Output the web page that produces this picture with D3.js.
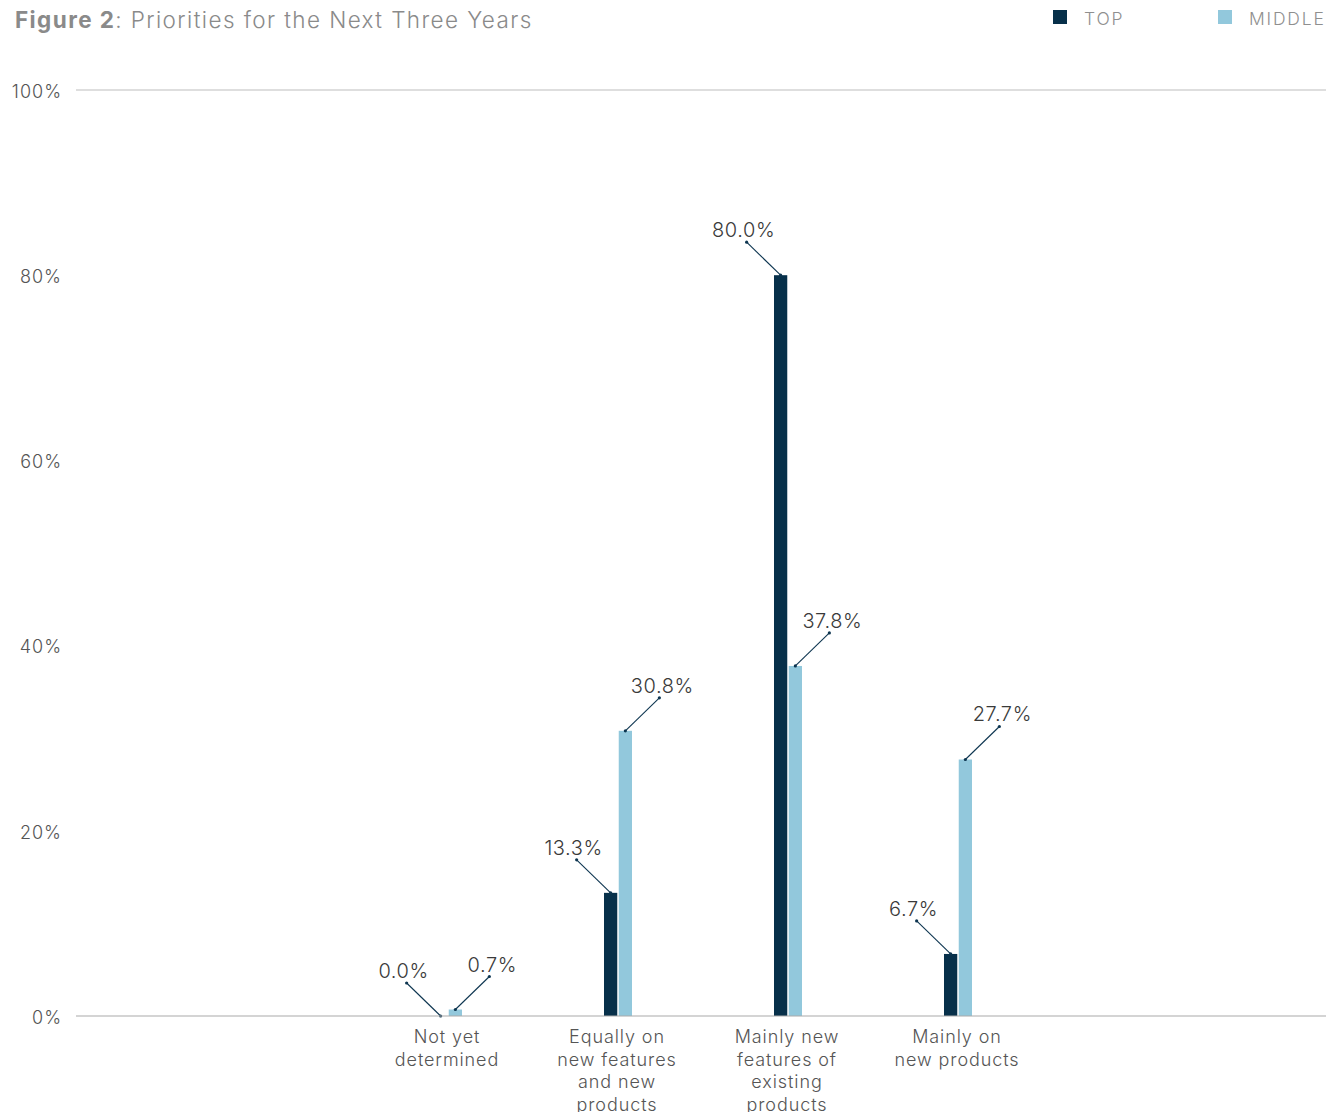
<!DOCTYPE html>
<html>
<head>
<meta charset="utf-8">
<script src="https://cdn.jsdelivr.net/npm/d3@7"></script>
<style>
  html, body { margin: 0; padding: 0; background: #fff; }
  svg { display: block; font-family: Inter, "Noto Sans", sans-serif; }
</style>
</head>
<body>
<svg id="chart" width="1330" height="1112"></svg>
<script>
// Survey answers: where the next three years of effort will go
const categories = [
  ["Not yet", "determined"],
  ["Equally on", "new features", "and new", "products"],
  ["Mainly new", "features of", "existing", "products"],
  ["Mainly on", "new products"]
];
const seriesNames = ["TOP", "MIDDLE"];
const topValues = [0.0, 13.3, 80.0, 6.7];
const middleValues = [0.7, 30.8, 37.8, 27.7];
const yTicks = [0, 20, 40, 60, 80, 100];

const colors = { TOP: "#07304a", MIDDLE: "#92c8dc" };

const svg = d3.select("#chart");
const plot = { left: 76, right: 1326, top: 90, bottom: 1016 };

const catKeys = categories.map(c => c.join(" "));
const rows = catKeys.map((k, i) => ({ key: k, TOP: topValues[i], MIDDLE: middleValues[i] }));

const x0 = d3.scaleBand().domain(catKeys).range([362, 1042]);
const x1 = d3.scaleBand().domain(seriesNames).range([0, 28]).paddingInner(0.1);
const y = d3.scaleLinear().domain([0, 100]).range([plot.bottom, plot.top]);

// Title
const title = svg.append("text")
  .attr("x", 15).attr("y", 28)
  .attr("font-size", 22.5).attr("fill", "#8a8a8a")
  .attr("letter-spacing", 1.4);
title.append("tspan").attr("font-weight", 700).text("Figure 2");
title.append("tspan").attr("font-weight", 300).text(": Priorities for the Next Three Years");

// Legend
const legendX = [1053, 1218];
seriesNames.forEach((s, i) => {
  const g = svg.append("g").attr("transform", `translate(${legendX[i]},10)`);
  g.append("rect").attr("width", 14).attr("height", 14).attr("fill", colors[s]);
  g.append("text").attr("x", 31).attr("y", 14.5)
    .attr("font-size", 17.5).attr("font-weight", 300).attr("fill", "#8f8f8f")
    .attr("letter-spacing", 1.8)
    .text(s);
});

// Y axis labels, top gridline and baseline
const yAxis = d3.axisLeft(y).tickValues(yTicks).tickFormat(d => d + "%").tickSize(0).tickPadding(14);
const ya = svg.append("g").attr("transform", `translate(${plot.left},0)`).call(yAxis);
ya.select(".domain").remove();
ya.selectAll("text")
  .attr("font-family", "Inter, sans-serif")
  .attr("font-size", 18).attr("font-weight", 300).attr("fill", "#555")
  .attr("letter-spacing", 1)
  .attr("dy", "0.4em");

svg.append("line")
  .attr("x1", plot.left).attr("x2", plot.right)
  .attr("y1", y(100)).attr("y2", y(100))
  .attr("stroke", "#bdbdbd").attr("stroke-width", 1);

// Bars
const groups = svg.append("g").selectAll("g").data(rows).join("g")
  .attr("transform", d => `translate(${x0(d.key) + x0.bandwidth() / 2 - 13},0)`);

groups.selectAll("rect").data(d => seriesNames.map(s => ({ s, v: d[s] }))).join("rect")
  .attr("x", d => x1(d.s))
  .attr("width", x1.bandwidth())
  .attr("y", d => y(d.v))
  .attr("height", d => y(0) - y(d.v))
  .attr("fill", d => colors[d.s]);

svg.append("line")
  .attr("x1", plot.left).attr("x2", plot.right)
  .attr("y1", y(0)).attr("y2", y(0))
  .attr("stroke", "#aaaaaa").attr("stroke-width", 1.2);

// Value labels with leader lines
groups.each(function(d) {
  const g = d3.select(this);
  seriesNames.forEach(s => {
    const v = d[s];
    const bx = x1(s) + x1.bandwidth() / 2;
    const by = y(v);
    const dir = s === "TOP" ? -1 : 1;
    const ex = bx + dir * 34, ey = by - 33;
    g.append("line")
      .attr("x1", bx).attr("y1", by).attr("x2", ex).attr("y2", ey)
      .attr("stroke", "#0d3550").attr("stroke-width", 1.1);
    g.append("circle").attr("cx", bx).attr("cy", by).attr("r", 1.6).attr("fill", "#0d3550");
    g.append("circle").attr("cx", ex).attr("cy", ey).attr("r", 1.6).attr("fill", "#0d3550");
    g.append("text")
      .attr("x", ex + dir * 3).attr("y", ey - 5)
      .attr("text-anchor", "middle")
      .attr("font-size", 20).attr("font-weight", 300).attr("fill", "#3a3a3a")
      .attr("letter-spacing", 0.6)
      .text(v.toFixed(1) + "%");
  });
});

// Category labels
categories.forEach((lines, i) => {
  const cx = x0(catKeys[i]) + x0.bandwidth() / 2;
  const t = svg.append("text")
    .attr("x", cx)
    .attr("y", 1043)
    .attr("text-anchor", "middle")
    .attr("font-size", 18).attr("font-weight", 300).attr("fill", "#555")
    .attr("letter-spacing", 0.9);
  lines.forEach((ln, j) => {
    t.append("tspan").attr("x", cx)
      .attr("dy", j === 0 ? 0 : 22.5).text(ln);
  });
});
</script>
</body>
</html>
